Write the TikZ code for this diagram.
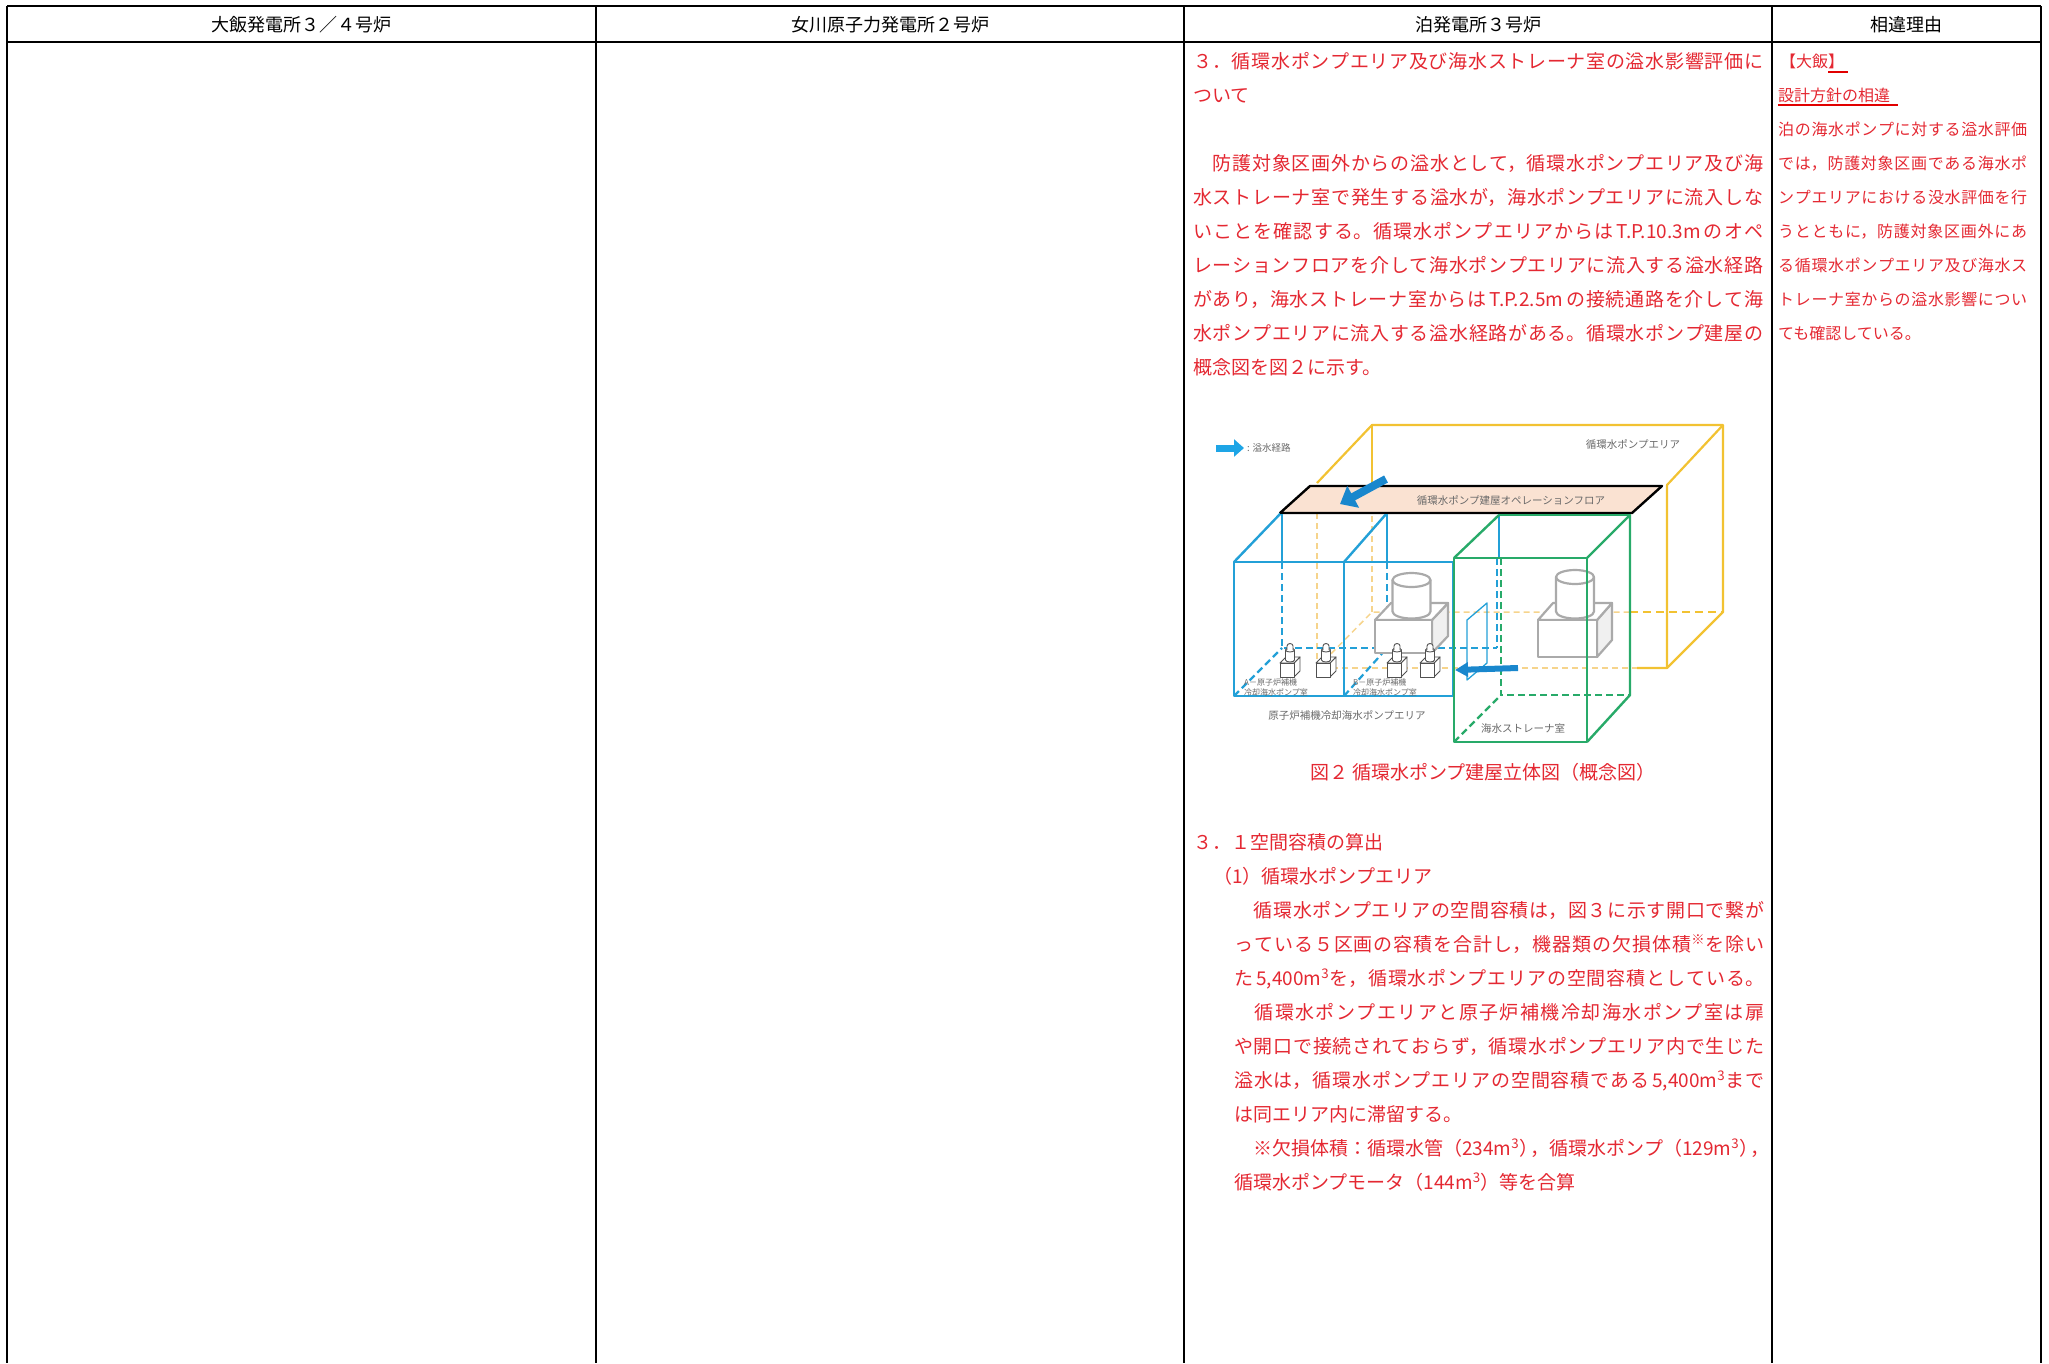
\documentclass[tikz,border=0pt]{standalone}
\usepackage{fontspec}
\setmainfont{Noto Sans CJK JP}
\usetikzlibrary{arrows.meta}
\XeTeXlinebreaklocale "ja"
\XeTeXlinebreakskip=0pt plus 8pt\relax
\definecolor{tred}{RGB}{228,40,50}
\definecolor{ulred}{RGB}{225,0,0}
\definecolor{ylw}{RGB}{242,194,50}
\definecolor{yfnt}{RGB}{246,212,140}
\definecolor{blu}{RGB}{35,160,215}
\definecolor{grn}{RGB}{40,170,105}
\definecolor{peach}{RGB}{250,226,210}
\definecolor{arrb}{RGB}{25,135,205}
\definecolor{legb}{RGB}{30,165,230}
\definecolor{pgray}{RGB}{170,170,170}
\definecolor{sgray}{RGB}{80,80,80}
\definecolor{lblg}{RGB}{105,105,105}
\newcommand\fs[1]{\fontsize{#1}{#1}\selectfont}
\newcommand\jl[2]{\parbox[b]{#1}{\parfillskip=0pt\relax\emergencystretch=20pt\noindent #2}}
\newcommand\msup{m\textsuperscript{3}}
\begin{document}
\begin{tikzpicture}[x=1pt,y=-1pt,
  tline/.style={line width=2pt,draw=black},
  hdr/.style={anchor=base,inner sep=0pt,font=\fs{18}},
  ctext/.style={anchor=base west,inner sep=0pt,text=tred,font=\fs{19}},
  rtext/.style={anchor=base west,inner sep=0pt,text=tred,font=\fs{16}},
  yl/.style={draw=ylw,line width=2.2pt,line join=round},
  yfaint/.style={draw=yfnt,line width=1.5pt,dash pattern=on 6pt off 4pt},
  bls/.style={draw=blu,line width=2.4pt,line join=round},
  bld/.style={draw=blu,line width=2.2pt,dash pattern=on 7pt off 4pt},
  grs/.style={draw=grn,line width=2.4pt,line join=round},
  grd/.style={draw=grn,line width=2.4pt,dash pattern=on 7pt off 4pt},
  pump/.style={draw=pgray,line width=2.2pt,fill=white,line join=round},
  spump/.style={draw=sgray,line width=0.9pt,fill=white,line join=round},
  fatarrow/.style={draw=arrb,line width=8pt,-{Triangle[length=15pt,width=24pt]}},
  flatarrow/.style={draw=arrb,line width=6pt,-{Triangle[length=13pt,width=14pt]}},
  legarrow/.style={draw=legb,line width=7pt,-{Triangle[length=10pt,width=17pt]}},
  lab/.style={text=lblg,inner sep=0pt,font=\fs{10.5}},
  tinylab/.style={text=lblg,inner sep=0pt,anchor=west,font=\fs{8}}]
\useasboundingbox (0,0) rectangle (2049,1363);
% ---------- table ----------
\draw[tline] (7,6) -- (2041,6);
\draw[tline] (7,42) -- (2041,42);
\foreach \xx in {7,596,1184,1772,2041} \draw[tline] (\xx,6) -- (\xx,1363);
\node[hdr] (h1) at (301.5,31) {大飯発電所３／４号炉};
\node[hdr] (h2) at (890,31) {女川原子力発電所２号炉};
\node[hdr] (h3) at (1478,31) {泊発電所３号炉};
\node[hdr] (h4) at (1906.5,31) {相違理由};
% ---------- centre column text ----------
\node[ctext] (c1) at (1193,68) {\jl{570pt}{３．循環水ポンプエリア及び海水ストレーナ室の溢水影響評価に}};
\node[ctext] (c2) at (1193,102) {ついて};
\node[ctext] (c3) at (1193,170) {\jl{570pt}{　防護対象区画外からの溢水として，循環水ポンプエリア及び海}};
\node[ctext] (c4) at (1193,204) {\jl{570pt}{水ストレーナ室で発生する溢水が，海水ポンプエリアに流入しな}};
\node[ctext] (c5) at (1193,238) {\jl{570pt}{いことを確認する。循環水ポンプエリアからは\,T.P.10.3m\,のオペ}};
\node[ctext] (c6) at (1193,272) {\jl{570pt}{レーションフロアを介して海水ポンプエリアに流入する溢水経路}};
\node[ctext] (c7) at (1193,306) {\jl{570pt}{があり，海水ストレーナ室からは\,T.P.2.5m\,の接続通路を介して海}};
\node[ctext] (c8) at (1193,340) {\jl{570pt}{水ポンプエリアに流入する溢水経路がある。循環水ポンプ建屋の}};
\node[ctext] (c9) at (1193,374) {概念図を図２に示す。};
\node[ctext,anchor=base] (cap) at (1483,779) {図２ 循環水ポンプ建屋立体図（概念図）};
\node[ctext] (d1) at (1193,849) {３．１空間容積の算出};
\node[ctext] (d2) at (1213,883) {（1）循環水ポンプエリア};
\node[ctext] (d3) at (1234,917) {\jl{530pt}{　循環水ポンプエリアの空間容積は，図３に示す開口で繋が}};
\node[ctext] (d4) at (1234,951) {\jl{530pt}{っている５区画の容積を合計し，機器類の欠損体積\textsuperscript{※}を除い}};
\node[ctext] (d5) at (1234,985) {\jl{530pt}{た\,5,400\msup を，循環水ポンプエリアの空間容積としている。}};
\node[ctext] (d6) at (1234,1019) {\jl{530pt}{　循環水ポンプエリアと原子炉補機冷却海水ポンプ室は扉}};
\node[ctext] (d7) at (1234,1053) {\jl{530pt}{や開口で接続されておらず，循環水ポンプエリア内で生じた}};
\node[ctext] (d8) at (1234,1087) {\jl{530pt}{溢水は，循環水ポンプエリアの空間容積である\,5,400\msup まで}};
\node[ctext] (d9) at (1234,1121) {は同エリア内に滞留する。};
\node[ctext] (d10) at (1234,1155) {　※欠損体積：循環水管（234\msup）\kern-0.4em，循環水ポンプ（129\msup）\kern-0.4em，};
\node[ctext] (d11) at (1234,1189) {循環水ポンプモータ（144\msup）等を合算};
% ---------- right column text ----------
\node[rtext] (r1) at (1780,67) {【大飯】};
\draw[ulred,line width=2pt] (1828,72) -- (1848,72);
\node[rtext] (r2) at (1778,101) {設計方針の相違};
\draw[ulred,line width=1.3pt] (1778,105) -- (1898,105);
\node[rtext] (r3) at (1778,135) {\jl{249pt}{泊の海水ポンプに対する溢水評価}};
\node[rtext] (r4) at (1778,169) {\jl{249pt}{では，防護対象区画である海水ポ}};
\node[rtext] (r5) at (1778,203) {\jl{249pt}{ンプエリアにおける没水評価を行}};
\node[rtext] (r6) at (1778,237) {\jl{249pt}{うとともに，防護対象区画外にあ}};
\node[rtext] (r7) at (1778,271) {\jl{249pt}{る循環水ポンプエリア及び海水ス}};
\node[rtext] (r8) at (1778,305) {\jl{249pt}{トレーナ室からの溢水影響につい}};
\node[rtext] (r9) at (1778,339) {ても確認している。};
% ---------- figure ----------
% hidden (faint) lines of the circulating water pump area
\draw[yfaint] (1317,513) -- (1317,668) -- (1637,668);
\draw[yfaint] (1317,668) -- (1372,612) -- (1630,612);
\draw[yfaint] (1372,486) -- (1372,612);
\draw[yl,dash pattern=on 8pt off 5pt,line width=1.8pt] (1630,612) -- (1723,612);
% yellow box
\draw[yl] (1317,483) -- (1372,425) -- (1723,425) -- (1723,612) -- (1667,668) -- (1637,668);
\draw[yl] (1372,425) -- (1372,486);
\draw[yl] (1723,425) -- (1667,485) -- (1667,668);
% operation floor slab
\filldraw[fill=peach,draw=black,line width=2.4pt,line join=round] (1310,486) -- (1662,486) -- (1632,513) -- (1280,513) -- cycle;
% hidden lines of the blue rooms and the green room
\draw[bld] (1282,562) -- (1282,648) -- (1497,648);
\draw[bld] (1387,562) -- (1387,648);
\draw[bld] (1234,696) -- (1282,648);
\draw[bld] (1344,696) -- (1387,648);
\draw[bld] (1497,558) -- (1497,648);
\draw[grd] (1501,558) -- (1501,695) -- (1630,695);
\draw[grd] (1454,742) -- (1501,695);
% big pumps
\filldraw[pump,fill=gray!12] (1432,620) -- (1448,603) -- (1448,636) -- (1432,653) -- cycle;
\filldraw[pump] (1375,620) -- (1432,620) -- (1448,603) -- (1391,603) -- cycle;
\filldraw[pump] (1375,620) rectangle (1432,653);
\filldraw[pump] (1392.5,580) -- (1392.5,611.5) arc[start angle=180,end angle=0,x radius=19,y radius=7] -- (1430.5,580) -- cycle;
\filldraw[pump] (1411.5,580) ellipse[x radius=19,y radius=7];
\filldraw[pump,fill=gray!12] (1597,620) -- (1612,603) -- (1612,640) -- (1597,657) -- cycle;
\filldraw[pump] (1538,620) -- (1597,620) -- (1612,603) -- (1553,603) -- cycle;
\filldraw[pump] (1538,620) rectangle (1597,657);
\filldraw[pump] (1556,577) -- (1556,611.5) arc[start angle=180,end angle=0,x radius=19,y radius=7] -- (1594,577) -- cycle;
\filldraw[pump] (1575,577) ellipse[x radius=19,y radius=7];
% small pumps
\foreach \px in {1280,1316,1387,1420} {
  \filldraw[spump] (\px+14,663) -- (\px+20,657) -- (\px+20,671) -- (\px+14,677) -- cycle;
  \filldraw[spump] (\px,663) -- (\px+14,663) -- (\px+20,657) -- (\px+6,657) -- cycle;
  \filldraw[spump] (\px,663) rectangle (\px+14,677);
  \filldraw[spump] (\px+5.5,650) -- (\px+5.5,660) arc[start angle=180,end angle=0,x radius=4.5,y radius=2] -- (\px+14.5,650) -- cycle;
  \filldraw[spump] (\px+10,650) ellipse[x radius=4.5,y radius=2];
  \filldraw[spump] (\px+7,650) -- (\px+7,646) arc[start angle=180,end angle=360,x radius=3,y radius=2.5] -- (\px+13,650);
}
% blue rooms
\draw[bls] (1234,562) rectangle (1453,696);
\draw[bls] (1344,562) -- (1344,696);
\draw[bls] (1234,562) -- (1281,513);
\draw[bls] (1344,562) -- (1387,513);
\draw[bls] (1282,513) -- (1282,562);
\draw[bls] (1387,513) -- (1387,562);
\draw[bls] (1499,513) -- (1499,558);
% green room
\draw[grs] (1454,558) rectangle (1587,742);
\draw[grs] (1454,558) -- (1499,515);
\draw[grs] (1587,558) -- (1630,515) -- (1630,695) -- (1587,742);
\draw[grs] (1499,515) -- (1630,515);
\draw[black,line width=2.4pt] (1280,513) -- (1632,513);
% door panel
\draw[blu,line width=1.3pt,line join=round] (1467,620) -- (1487,603) -- (1487,663) -- (1467,680) -- cycle;
% flooding routes
\draw[fatarrow] (1386,479) -- (1340,504);
\draw[flatarrow] (1518,668) -- (1455,670);
\draw[legarrow] (1216,448) -- (1244,448);
% labels
\node[lab,anchor=west,font=\fs{9.5}] (leg) at (1247,448) {: 溢水経路};
\node[lab] (la) at (1633,444) {循環水ポンプエリア};
\node[lab] (lb) at (1511,500) {循環水ポンプ建屋オペレーションフロア};
\node[tinylab] (a1) at (1244,682) {A－原子炉補機};
\node[tinylab] (a2) at (1244,692) {冷却海水ポンプ室};
\node[tinylab] (b1) at (1353,682) {B－原子炉補機};
\node[tinylab] (b2) at (1353,692) {冷却海水ポンプ室};
\node[lab] (lc) at (1347,715) {原子炉補機冷却海水ポンプエリア};
\node[lab] (ld) at (1523,728) {海水ストレーナ室};
\end{tikzpicture}
\end{document}
